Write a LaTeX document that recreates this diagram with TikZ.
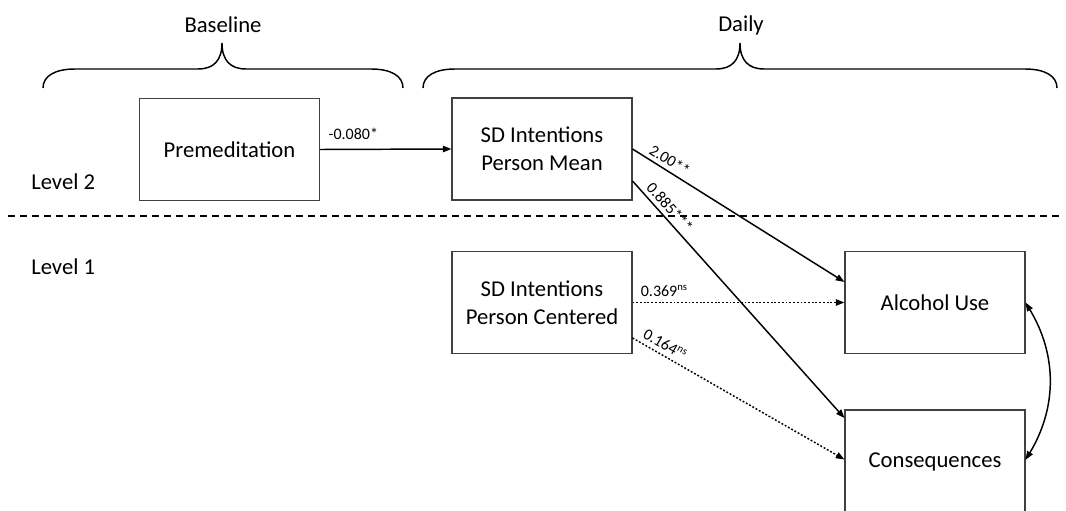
\documentclass[tikz,border=0pt]{standalone}
\usepackage{fontspec}
\setmainfont{Carlito}
\usetikzlibrary{arrows.meta}
\begin{document}
\begin{tikzpicture}[x=0.75pt,y=-0.75pt,
  box/.style={draw=black!75,line width=0.8pt,minimum width=135pt,minimum height=76.5pt,
    inner sep=0pt,align=center,font=\fontsize{17}{21}\selectfont},
  lvl/.style={anchor=west,inner sep=0pt,font=\fontsize{17}{21}\selectfont},
  hdr/.style={inner sep=0pt,font=\fontsize{17}{21}\selectfont},
  coef/.style={inner sep=1pt,font=\fontsize{12}{14}\selectfont},
  path/.style={line width=1.1pt,-{Triangle[length=6.5pt,width=4.8pt]}},
  nspath/.style={path,dash pattern=on 1.4pt off 1.4pt},
  brace/.style={line width=1.1pt}]
\useasboundingbox (0,0) rectangle (1066,510);
\clip (0,0) rectangle (1066,510);

% time headers and their braces
\node[hdr] (hbase) at (223,25) {Baseline};
\node[hdr] (hdaily) at (741,25) {Daily};
\draw[brace] (43,88) .. controls (43,76) and (55,69) .. (75,69) -- (198,69)
  .. controls (214,69) and (222,60) .. (222,43)
  .. controls (222,60) and (230,69) .. (246,69) -- (371,69)
  .. controls (391,69) and (403,76) .. (403,88);
\draw[brace] (423,88) .. controls (423,76) and (435,69) .. (455,69) -- (716,69)
  .. controls (732,69) and (740,60) .. (740,43)
  .. controls (740,60) and (748,69) .. (764,69) -- (1025,69)
  .. controls (1045,69) and (1057,76) .. (1057,88);

% level separator
\node[lvl] (l2) at (31,182) {Level 2};
\node[lvl] (l1) at (31,267) {Level 1};
\coordinate (sepL) at (8,216);
\coordinate (sepR) at (1062,216);
\draw[line width=1.1pt,dash pattern=on 5.3pt off 3.7pt] (sepL) -- (sepR);

% variables
\node[box] (prem) at (229.5,149.5) {Premeditation};
\node[box] (mean) at (542,149) {SD Intentions\\Person Mean};
\node[box] (cent) at (542,302.5) {SD Intentions\\Person Centered};
\node[box] (alc)  at (935,302.5) {Alcohol Use};
\node[box,minimum height=77.25pt] (cons) at (935,461.5) {Consequences};

% paths
\draw[path] (prem.east) -- node[coef,pos=0.05,anchor=south west,yshift=6pt]{-0.080*} (mean.west);
\draw[path] (mean.east) --
  node[coef,pos=0.15,sloped,above=2pt]{2.00**} ([yshift=15.4pt]alc.west);
\draw[path] ([yshift=-24pt]mean.east) --
  node[coef,pos=0.14,sloped,above=2pt]{0.885***} ([yshift=32.6pt]cons.west);
\draw[nspath] (cent.east) --
  node[coef,pos=0.15,above,yshift=3pt]{0.369\textsuperscript{ns}} (alc.west);
\draw[nspath] ([yshift=-26.6pt]cent.east) --
  node[coef,pos=0.13,sloped,above=2pt]{0.164\textsuperscript{ns}} ([yshift=1.5pt]cons.west);
\draw[line width=1.1pt,{Triangle[length=6.5pt,width=4.8pt]}-{Triangle[length=6.5pt,width=4.8pt]}]
  (alc.east) to[bend left=31] ([yshift=1.2pt]cons.east);
\end{tikzpicture}
\end{document}
